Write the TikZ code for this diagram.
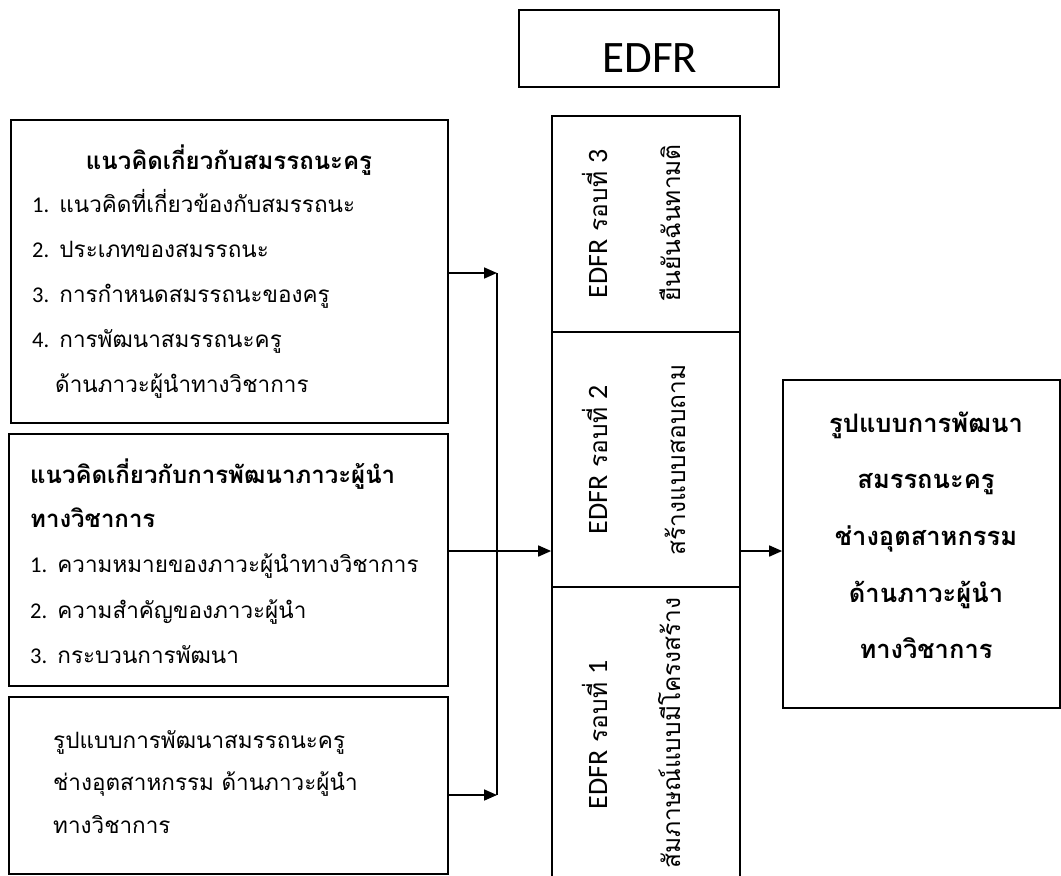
\documentclass[tikz,border=0pt]{standalone}
\usepackage{fontspec}
\setmainfont[Script=Thai]{Loma}
\newfontfamily\latf{Carlito}
\newcommand{\lt}[1]{{\latf #1}}
\newcommand{\ltc}[1]{{\latf\fontsize{28}{28}\selectfont #1}}
\usetikzlibrary{arrows.meta}
\begin{document}
\begin{tikzpicture}[x=1pt,y=-1pt,
  box/.style={draw, line width=1.7pt, inner sep=0pt},
  thinbox/.style={draw, line width=1.1pt, inner sep=0pt},
  itemtxt/.style={font=\fontsize{22.5}{22.5}\selectfont, anchor=base west, inner sep=0pt},
  headtxt/.style={font=\fontsize{24}{24}\selectfont\bfseries, inner sep=0pt},
  coltxt/.style={font=\fontsize{24.5}{24.5}\selectfont, rotate=90, anchor=base, inner sep=0pt},
  restxt/.style={font=\fontsize{25.5}{25.5}\selectfont\bfseries, anchor=base, inner sep=0pt},
  conn/.style={line width=1.7pt},
  arr/.style={line width=1.7pt, -{Triangle[length=13pt,width=11pt]}}
]
\useasboundingbox (0,0) rectangle (1061,876);

% boxes
\node[box, minimum width=437pt, minimum height=303pt] (b1) at (229.5,271.5) {};
\node[box, minimum width=439pt, minimum height=252pt] (b2) at (228.5,560) {};
\node[box, minimum width=439pt, minimum height=177pt] (b3) at (228.5,785.5) {};
\node[thinbox, minimum width=260pt, minimum height=77pt] (edfr) at (649,48.5) {};
\node[box, minimum width=188pt, minimum height=216pt] (s3) at (646,224) {};
\node[box, minimum width=188pt, minimum height=255pt] (s2) at (646,459.5) {};
\node[box, minimum width=188pt, minimum height=294pt] (s1) at (646,734) {};
\node[box, minimum width=277pt, minimum height=328pt] (rb) at (921.5,544) {};

% EDFR title
\node[font=\latf\fontsize{45}{45}\selectfont, anchor=base, inner sep=0pt] (edfrt) at (650,72) {EDFR};

% box 1 text
\node[headtxt, anchor=base] (h1) at (229,169) {แนวคิดเกี่ยวกับสมรรถนะครู};
\node[itemtxt] (i11) at (32,212) {\lt{1.} แนวคิดที่เกี่ยวข้องกับสมรรถนะ};
\node[itemtxt] (i12) at (32,257) {\lt{2.} ประเภทของสมรรถนะ};
\node[itemtxt] (i13) at (32,302) {\lt{3.} การกำหนดสมรรถนะของครู};
\node[itemtxt] (i14) at (32,347) {\lt{4.} การพัฒนาสมรรถนะครู};
\node[itemtxt] (i15) at (55,392) {ด้านภาวะผู้นำทางวิชาการ};

% box 2 text
\node[headtxt, anchor=base west] (h2a) at (30,483) {แนวคิดเกี่ยวกับการพัฒนาภาวะผู้นำ};
\node[headtxt, anchor=base west] (h2b) at (30,527) {ทางวิชาการ};
\node[itemtxt] (i21) at (30,572) {\lt{1.} ความหมายของภาวะผู้นำทางวิชาการ};
\node[itemtxt] (i22) at (30,618) {\lt{2.} ความสำคัญของภาวะผู้นำ};
\node[itemtxt] (i23) at (30,663) {\lt{3.} กระบวนการพัฒนา};

% box 3 text
\node[itemtxt] (i31) at (53,748) {รูปแบบการพัฒนาสมรรถนะครู};
\node[itemtxt] (i32) at (53,790) {ช่างอุตสาหกรรม ด้านภาวะผู้นำ};
\node[itemtxt] (i33) at (53,833) {ทางวิชาการ};

% column text
\node[coltxt] (c3a) at (607,224) {\ltc{EDFR} รอบที่ \ltc{3}};
\node[coltxt] (c3b) at (680,223) {ยืนยันฉันทามติ};
\node[coltxt] (c2a) at (607,460) {\ltc{EDFR} รอบที่ \ltc{2}};
\node[coltxt] (c2b) at (685,460) {สร้างแบบสอบถาม};
\node[coltxt] (c1a) at (607,735) {\ltc{EDFR} รอบที่ \ltc{1}};
\node[coltxt] (c1b) at (680,733) {สัมภาษณ์แบบมีโครงสร้าง};

% result text
\node[restxt] (r1) at (926,432) {รูปแบบการพัฒนา};
\node[restxt] (r2) at (926,488) {สมรรถนะครู};
\node[restxt] (r3) at (926,545) {ช่างอุตสาหกรรม};
\node[restxt] (r4) at (926,602) {ด้านภาวะผู้นำ};
\node[restxt] (r5) at (926,658) {ทางวิชาการ};

% connectors
\coordinate (j1) at (497,273);
\coordinate (j3) at (497,795);
\coordinate (ja) at (497,551);
\draw[conn] (j1) -- (j3);
\draw[arr] (b1.east |- j1) -- (j1);
\draw[arr] (b3.east |- j3) -- (j3);
\draw[arr] (b2.east |- ja) -- (s2.west |- ja);
\draw[arr] (s2.east |- ja) -- (rb.west |- ja);
\end{tikzpicture}
\end{document}
